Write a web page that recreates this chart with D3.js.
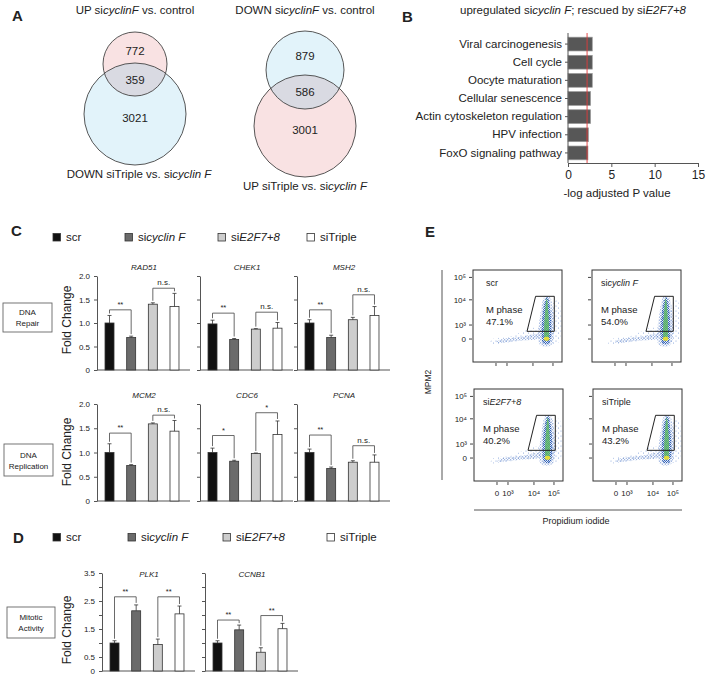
<!DOCTYPE html>
<html><head><meta charset="utf-8">
<script src="https://cdn.jsdelivr.net/npm/d3@7"></script>
<style>body{margin:0;background:#fff}svg{display:block}text{font-family:"Liberation Sans",Arial,Helvetica,sans-serif;fill:#222}</style>
</head><body><svg id="c" width="709" height="676"></svg>
<script>
// ---------------- DATA ----------------
// Panel A (Venn counts)
const vennLeftCounts = [772, 359, 3021];
const vennRightCounts = [879, 586, 3001];
// Panel B
const pathways = ["Viral carcinogenesis","Cell cycle","Oocyte maturation","Cellular senescence","Actin cytoskeleton regulation","HPV infection","FoxO signaling pathway"];
const pathwayScores = [2.8, 2.8, 2.8, 2.6, 2.6, 2.35, 2.3];
const pThreshold = 2.2;
const bTicks = [0, 5, 10, 15];
// Groups
const groups = ["scr", "sicyclin F", "siE2F7+8", "siTriple"];
const groupColors = ["#111111", "#6b6b6b", "#cdcdcd", "#ffffff"];
// Panel C
const genesC = ["RAD51", "CHEK1", "MSH2", "MCM2", "CDC6", "PCNA"];
const meansC = [[1.0,0.69,1.40,1.35],[0.98,0.65,0.87,0.89],[1.0,0.69,1.07,1.16],[1.0,0.73,1.59,1.44],[1.0,0.82,0.98,1.37],[1.0,0.67,0.80,0.80]];
const errC   = [[0.16,0.03,0.03,0.28],[0.08,0.02,0.01,0.12],[0.07,0.05,0.05,0.19],[0.18,0.02,0.02,0.22],[0.09,0.02,0.01,0.28],[0.07,0.03,0.03,0.15]];
const sigC = [
  [["**",0,1,1.28],["n.s.",2,3,1.74]],
  [["**",0,1,1.21],["n.s.",2,3,1.23]],
  [["**",0,1,1.28],["n.s.",2,3,1.60]],
  [["**",0,1,1.40],["n.s.",2,3,1.77]],
  [["*",0,1,1.35],["*",2,3,1.82]],
  [["**",0,1,1.36],["n.s.",2,3,1.14]]
];
const ticksC = [0, 0.5, 1.0, 1.5, 2.0];
// Panel D
const genesD = ["PLK1", "CCNB1"];
const meansD = [[1.0,2.15,0.95,2.04],[1.0,1.47,0.67,1.51]];
const errD   = [[0.08,0.21,0.19,0.28],[0.08,0.17,0.16,0.19]];
const sigD = [[["**",0,1,2.65],["**",2,3,2.65]],[["**",0,1,1.82],["**",2,3,1.98]]];
const ticksD = [0, 0.5, 1.0, 1.5, 2.0, 2.5, 3.0, 3.5];
const labelledD = [0, 0.5, 1.5, 2.5, 3.5];
// Panel E
const flowSamples = ["scr", "sicyclin F", "siE2F7+8", "siTriple"];
const mPhasePct = [47.1, 54.0, 40.2, 43.2];
const flowXTicks = [["0",0],["10³",1],["10⁴",3.36],["10⁵",5.18]];
const flowYTicks = [["0",0],["10³",1],["10⁴",2.8],["10⁵",4.4]];
const gate = [[2.82,0.55],[3.6,3.05],[5.3,3.05],[5.3,0.55]];
const cloudWisp = [[-0.6,-0.35],[1.0,-0.25],[2.5,-0.1],[3.95,0.1],[4.0,0.75],[3.2,0.8],[2.3,0.5],[1.2,0.15],[-0.3,0.0]];
const cloudWispCore = [[0.0,-0.25],[2.0,-0.12],[3.9,0.05],[3.9,0.35],[2.2,0.15],[0.3,-0.05]];
const cloudColumn = [[4.0,-0.4],[5.05,-0.4],[5.1,2.5],[4.9,3.0],[4.45,3.05],[4.1,2.1]];
const cloudColumnCore = [[4.3,-0.3],[4.85,-0.3],[4.85,2.6],[4.65,3.0],[4.35,2.4]];
const cloudRight = [[5.1,-0.3],[5.75,-0.2],[5.65,2.8],[5.15,2.5]];
const cloudCore = [[4.48,-0.05],[4.72,-0.05],[4.7,2.5],[4.6,2.9],[4.5,2.3]];
const spot = [4.6, 0.02];

// ---------------- DRAW ----------------
const svg = d3.select("#c");
const ink = "#333";
function rich(sel, s) {
  const m = s.match(/^si(.+)$/);
  if (m && s !== "siTriple" && s !== "scr") {
    sel.append("tspan").text("si");
    sel.append("tspan").attr("font-style","italic").text(m[1]);
  } else sel.text(s);
  return sel;
}
function letter(t, x, y) {
  svg.append("text").attr("x",x).attr("y",y).attr("font-size",15).attr("font-weight","bold").attr("fill","#111").text(t);
}
letter("A", 12, 21); letter("B", 402, 22); letter("C", 11, 236); letter("D", 13, 543); letter("E", 425, 237);

// ---- Panel A ----
const defs = svg.append("defs");
function venn(id, cx, top, bot, topFill, botFill, counts, titleParts, bottomParts, bottomY) {
  defs.append("clipPath").attr("id", id).append("circle").attr("cx",cx).attr("cy",top[0]).attr("r",top[1]);
  const g = svg.append("g");
  g.append("circle").attr("cx",cx).attr("cy",bot[0]).attr("r",bot[1]).attr("fill",botFill);
  g.append("circle").attr("cx",cx).attr("cy",top[0]).attr("r",top[1]).attr("fill",topFill);
  g.append("circle").attr("cx",cx).attr("cy",bot[0]).attr("r",bot[1]).attr("fill","#d9dae2").attr("clip-path",`url(#${id})`);
  g.selectAll("circle.o").data([top, bot]).join("circle").attr("class","o").attr("cx",cx).attr("cy",d=>d[0]).attr("r",d=>d[1])
    .attr("fill","none").attr("stroke","#444").attr("stroke-width",0.9);
  const lensMid = ((bot[0]-bot[1]) + (top[0]+top[1]))/2;
  const ys = [ (top[0]-top[1] + bot[0]-bot[1])/2 + 3, lensMid, bot[0] + 4 ];
  g.selectAll("text.n").data(counts).join("text").attr("class","n").attr("x",cx).attr("y",(d,i)=>ys[i]+4)
    .attr("text-anchor","middle").attr("font-size",11.5).text(d=>d);
  const t = g.append("text").attr("x",cx).attr("y",14).attr("text-anchor","middle").attr("font-size",11.5);
  titleParts.forEach(p=>t.append("tspan").attr("font-style",p[1]?"italic":null).text(p[0]));
  const b = g.append("text").attr("x",cx+ (id==="vl"?4:0)).attr("y",bottomY).attr("text-anchor","middle").attr("font-size",11.5);
  bottomParts.forEach(p=>b.append("tspan").attr("font-style",p[1]?"italic":null).text(p[0]));
}
venn("vl", 135, [64,32], [114,51], "#f9e2e3", "#e2f3fa", vennLeftCounts,
  [["UP si",0],["cyclinF",1],[" vs. control",0]], [["DOWN siTriple vs. si",0],["cyclin F",1]], 178);
venn("vr", 305, [70,39], [126,51], "#e2f3fa", "#f9e2e3", vennRightCounts,
  [["DOWN si",0],["cyclinF",1],[" vs. control",0]], [["UP siTriple vs. si",0],["cyclin F",1]], 190);

// ---- Panel B ----
{
  const x = d3.scaleLinear([0,15],[568,698]);
  const y = d3.scaleBand(pathways,[35,162]).paddingInner(0.24).paddingOuter(0.12);
  const g = svg.append("g");
  const bt = g.append("text").attr("x",573).attr("y",14).attr("text-anchor","middle").attr("font-size",11.5);
  bt.append("tspan").text("upregulated si"); bt.append("tspan").attr("font-style","italic").text("cyclin F");
  bt.append("tspan").text("; rescued by si"); bt.append("tspan").attr("font-style","italic").text("E2F7+8");
  g.selectAll("rect").data(pathwayScores).join("rect").attr("x",x(0)).attr("y",(d,i)=>y(pathways[i]))
    .attr("width",d=>x(d)-x(0)).attr("height",y.bandwidth()).attr("fill","#575757").attr("stroke","#999").attr("stroke-width",0.7);
  g.append("line").attr("x1",x(pThreshold)).attr("x2",x(pThreshold)).attr("y1",33).attr("y2",163).attr("stroke","#e23a3a").attr("stroke-width",0.9);
  const ya = g.append("g").attr("transform",`translate(${x(0)},0)`).call(d3.axisLeft(y).tickSize(3).tickSizeOuter(0).tickPadding(3));
  ya.select(".domain").attr("d","M0,33V163").attr("stroke","#555");
  ya.selectAll("line").attr("stroke","#555");
  ya.selectAll("text").attr("font-size",11.5).attr("fill","#222").attr("font-family",null);
  const xa = g.append("g").attr("transform","translate(0,163)").call(d3.axisBottom(x).tickValues(bTicks).tickSize(4).tickSizeOuter(0).tickPadding(3));
  xa.select(".domain").attr("stroke","#555"); xa.selectAll("line").attr("stroke","#555");
  xa.selectAll("text").attr("font-size",12).attr("fill","#222").attr("font-family",null);
  g.append("text").attr("x",617).attr("y",197).attr("text-anchor","middle").attr("font-size",11.5).text("-log adjusted P value");
}

// ---- Legends ----
function legend(y, xs) {
  const g = svg.append("g");
  groups.forEach((name,i)=>{
    g.append("rect").attr("x",xs[i]).attr("y",y-7.5).attr("width",7.5).attr("height",7.5).attr("fill",groupColors[i]).attr("stroke",ink).attr("stroke-width",0.8);
    rich(g.append("text").attr("x",xs[i]+13).attr("y",y).attr("font-size",11.5), name);
  });
}
legend(241, [53, 125, 218, 307]);
legend(541, [53, 128, 223, 327]);

// ---- Bar charts ----
function barChart(o) {
  const g = svg.append("g");
  const x = d3.scaleBand(d3.range(groups.length), [o.ox, o.ox+90]).paddingInner(0.585).paddingOuter(0.37);
  const y = d3.scaleLinear([0, o.max], [o.yBot, o.yTop]);
  const ax = g.append("g").attr("transform",`translate(${o.ox},0)`)
    .call(d3.axisLeft(y).tickValues(o.ticks).tickSize(3).tickSizeOuter(0).tickPadding(4)
      .tickFormat(d => o.showLabels && o.labelled.includes(d) ? (d===0 ? "0" : d3.format(".1f")(d)) : ""));
  ax.select(".domain").attr("stroke","#555"); ax.selectAll("line").attr("stroke","#555");
  ax.selectAll("text").attr("font-size",8).attr("fill","#333").attr("font-family",null);
  g.append("line").attr("x1",o.ox).attr("x2",o.ox+93).attr("y1",o.yBot).attr("y2",o.yBot).attr("stroke","#555");
  g.selectAll("rect").data(o.means).join("rect").attr("x",(d,i)=>x(i)).attr("y",d=>y(d))
    .attr("width",x.bandwidth()).attr("height",d=>y(0)-y(d)).attr("fill",(d,i)=>groupColors[i]).attr("stroke",ink).attr("stroke-width",0.8);
  o.means.forEach((m,i)=>{
    const cx = x(i)+x.bandwidth()/2, t = y(m+o.errs[i]);
    g.append("line").attr("x1",cx).attr("x2",cx).attr("y1",y(m)).attr("y2",t).attr("stroke",ink).attr("stroke-width",0.8);
    g.append("line").attr("x1",cx-2).attr("x2",cx+2).attr("y1",t).attr("y2",t).attr("stroke",ink).attr("stroke-width",0.8);
  });
  o.sigs.forEach(([lab,a,b,lev])=>{
    const xa = x(a)+x.bandwidth()/2, xb = x(b)+x.bandwidth()/2, yl = y(lev);
    const ya = y(o.means[a]+o.errs[a])-2, yb = y(o.means[b]+o.errs[b])-2;
    g.append("path").attr("d",`M${xa},${Math.max(ya,yl)}V${yl}H${xb}V${Math.max(yb,yl)}`).attr("fill","none").attr("stroke","#444").attr("stroke-width",0.8);
    g.append("text").attr("x",(xa+xb)/2).attr("y",yl-3).attr("text-anchor","middle").attr("font-size",lab==="n.s."?8:7.5).attr("fill","#333").text(lab);
  });
  g.append("text").attr("x",o.ox+47).attr("y",o.titleY).attr("text-anchor","middle").attr("font-size",8).attr("font-style","italic").text(o.title);
}
const oxC = [97, 200, 297];
genesC.forEach((gene,i)=>{
  const row = Math.floor(i/3), col = i%3;
  barChart({ox: oxC[col], yTop: row ? 404 : 276, yBot: row ? 501 : 370, max: 2.0, ticks: ticksC, labelled: ticksC,
    showLabels: col===0, means: meansC[i], errs: errC[i], sigs: sigC[i], title: gene, titleY: row ? 398 : 270});
});
const oxD = [102, 205];
genesD.forEach((gene,i)=>{
  barChart({ox: oxD[i], yTop: 573, yBot: 671, max: 3.5, ticks: ticksD, labelled: labelledD,
    showLabels: i===0, means: meansD[i], errs: errD[i], sigs: sigD[i], title: gene, titleY: 577});
});
// Fold Change labels
[[320],[452],[630]].forEach(([cy])=>{
  svg.append("text").attr("transform",`translate(71,${cy}) rotate(-90)`).attr("text-anchor","middle").attr("font-size",12).text("Fold Change");
});
// Category boxes
function catBox(x, y, w, h, lines) {
  svg.append("rect").attr("x",x).attr("y",y).attr("width",w).attr("height",h).attr("fill","#fff").attr("stroke","#666").attr("stroke-width",0.9);
  lines.forEach((l,i)=>svg.append("text").attr("x",x+w/2).attr("y",y+h/2 - (lines.length-1)*5.5 + i*11 + 3).attr("text-anchor","middle").attr("font-size",8).text(l));
}
catBox(3, 303, 49, 29, ["DNA","Repair"]);
catBox(4, 444, 49, 32, ["DNA","Replication"]);
catBox(7, 607, 48, 31, ["Mitotic","Activity"]);

// ---- Panel E ----
const pat = (id, size, pts, color, r) => {
  const p = defs.append("pattern").attr("id",id).attr("width",size).attr("height",size).attr("patternUnits","userSpaceOnUse");
  pts.forEach(([a,b])=>p.append("circle").attr("cx",a).attr("cy",b).attr("r",r).attr("fill",color));
};
pat("sparse", 5, [[1,1],[3.5,3]], "#6b8fd3", 0.5);
pat("mid", 3, [[0.7,0.7],[2.2,2.1]], "#4470c2", 0.55);
pat("dense", 2, [[0.5,0.5],[1.5,1.5]], "#2e5fb5", 0.6);
const panelX = [473, 592], panelY = [270, 389], PW = 89, PH = 92;
flowSamples.forEach((name, i)=>{
  const px = panelX[i%2] + (i>=2 ? 1 : 0), py = panelY[Math.floor(i/2)];
  const xs = d3.scaleLinear([-2.09, 6.0], [px, px+PW]);
  const ys = d3.scaleLinear([-1.64, 4.93], [py+PH, py]);
  const line = d3.line().x(d=>xs(d[0])).y(d=>ys(d[1])).curve(d3.curveCatmullRomClosed);
  const g = svg.append("g");
  g.append("path").attr("d",line(cloudWisp)).attr("fill","url(#sparse)");
  g.append("path").attr("d",line(cloudWispCore)).attr("fill","url(#mid)");
  g.append("path").attr("d",line(cloudRight)).attr("fill","url(#sparse)");
  g.append("path").attr("d",line(cloudColumn)).attr("fill","url(#mid)");
  g.append("path").attr("d",line(cloudColumnCore)).attr("fill","url(#dense)");
  g.append("path").attr("d",line(cloudCore)).attr("fill","#5cba5e").attr("opacity",0.8);
  g.append("ellipse").attr("cx",xs(spot[0])).attr("cy",ys(spot[1])).attr("rx",2.8).attr("ry",2).attr("fill","#e4dc3a");
  g.append("path").attr("d",d3.line().x(d=>xs(d[0])).y(d=>ys(d[1]))(gate)+"Z").attr("fill","none").attr("stroke","#222").attr("stroke-width",1);
  g.append("rect").attr("x",px).attr("y",py).attr("width",PW).attr("height",PH).attr("fill","none").attr("stroke","#333").attr("stroke-width",1);
  // ticks
  flowYTicks.forEach(([lab,v])=>{
    g.append("line").attr("x1",px-4).attr("x2",px-1).attr("y1",ys(v)).attr("y2",ys(v)).attr("stroke","#444");
    if (i%2===0) g.append("text").attr("x",px-7).attr("y",ys(v)+3).attr("text-anchor","end").attr("font-size",8).attr("fill","#333").text(lab);
  });
  flowXTicks.forEach(([lab,v])=>{
    g.append("line").attr("x1",xs(v)).attr("x2",xs(v)).attr("y1",py+PH+1).attr("y2",py+PH+4).attr("stroke","#444");
    if (i>=2) g.append("text").attr("x",xs(v)).attr("y",py+PH+15).attr("text-anchor","middle").attr("font-size",8).attr("fill","#333").text(lab);
  });
  const lx = px + (i===0 ? 13 : 9);
  rich(g.append("text").attr("x",lx).attr("y",py+16).attr("font-size",9).attr("fill","#333"), name);
  g.append("text").attr("x",lx).attr("y",py+43).attr("font-size",9.5).text("M phase");
  g.append("text").attr("x",lx).attr("y",py+55).attr("font-size",9.5).text(d3.format(".1f")(mPhasePct[i])+"%");
});
svg.append("line").attr("x1",442).attr("x2",442).attr("y1",270).attr("y2",480).attr("stroke","#555");
svg.append("text").attr("transform","translate(431,382) rotate(-90)").attr("text-anchor","middle").attr("font-size",8.5).text("MPM2");
svg.append("line").attr("x1",474).attr("x2",682).attr("y1",510).attr("y2",510).attr("stroke","#555");
svg.append("text").attr("x",576).attr("y",524).attr("text-anchor","middle").attr("font-size",9).text("Propidium iodide");
</script></body></html>
